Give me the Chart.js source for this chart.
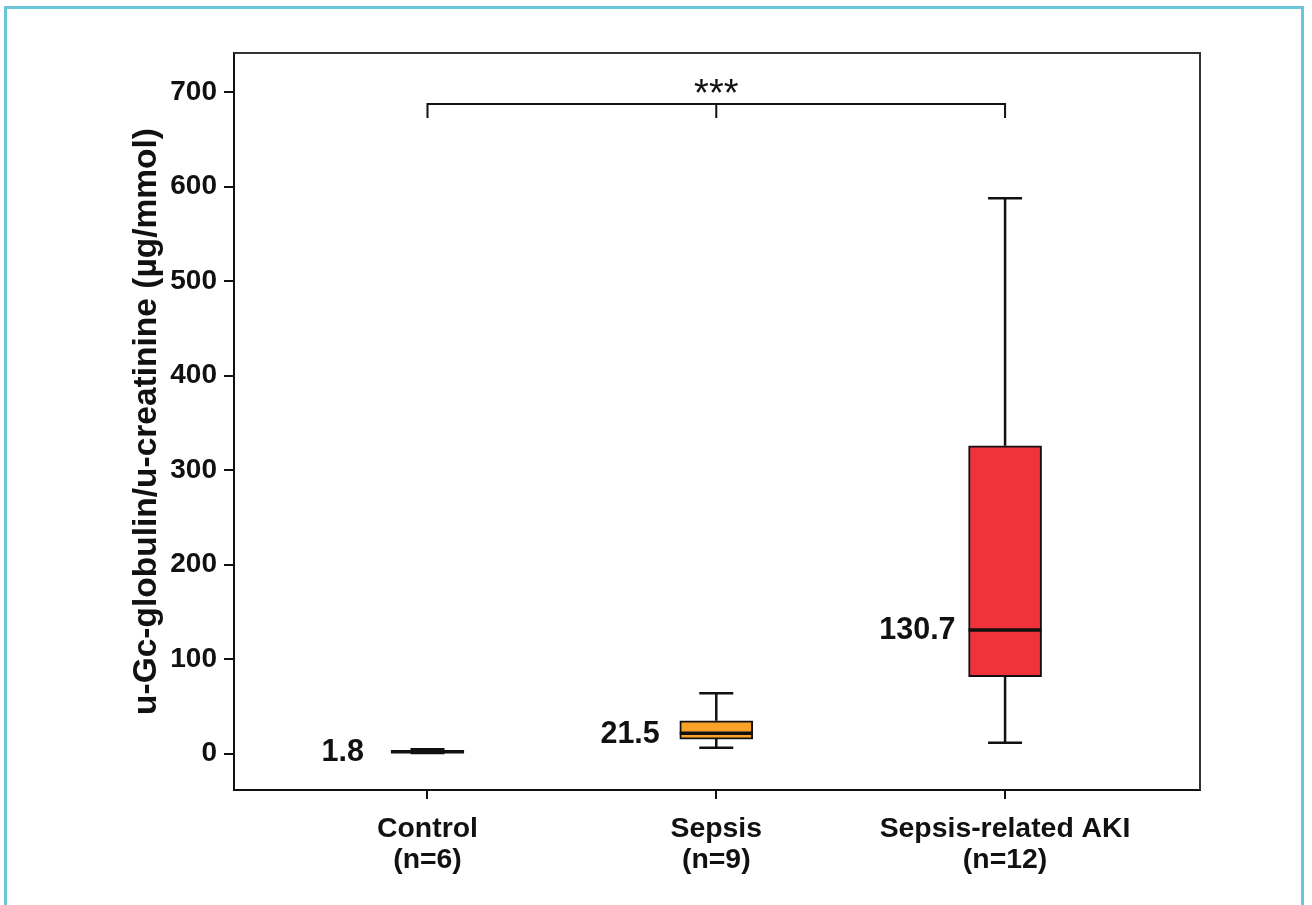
<!DOCTYPE html>
<html>
<head>
<meta charset="utf-8">
<script src="https://cdn.jsdelivr.net/npm/chart.js@4.4.1/dist/chart.umd.min.js"></script>
<style>
  html, body { margin: 0; padding: 0; background: #ffffff; overflow: hidden; }
  #wrap { position: relative; width: 1312px; height: 905px; }
  #frame { position: absolute; left: 4px; top: 6px; width: 1300px; height: 920px;
           border: 3px solid #6cc6da; box-sizing: border-box; pointer-events: none; }
  canvas { position: absolute; left: 0; top: 0; }
</style>
</head>
<body>
<div id="wrap">
  <canvas id="c" width="1312" height="905"></canvas>
  <div id="frame"></div>
</div>
<script>
// ---- data ----
const categories = ['Control', 'Sepsis', 'Sepsis-related AKI'];
const sampleSizes = ['(n=6)', '(n=9)', '(n=12)'];
const minVals    = [0.6, 6.1, 11.4];
const q1Vals     = [0.9, 15.3, 81.3];
const medianVals = [1.8, 21.5, 130.7];
const q3Vals     = [3.2, 34.7, 325.7];
const maxVals    = [4.5, 63.7, 587.5];
const medianLabels = ['1.8', '21.5', '130.7'];
const yTicks = [0, 100, 200, 300, 400, 500, 600, 700];
const yTitle = 'u-Gc-globulin/u-creatinine (\u00b5g/mmol)';
const bracketFrom = 1, bracketMid = 2, bracketTo = 3;
const bracketTop = 687.3, bracketLeg = 672.5, sigLabelY = 696.5;
const sigLabel = '***';

// ---- styles ----
const boxColors = ['#f9a227', '#f9a227', '#f0333b'];
const labelGaps = [27, 20, 13];
const FONT = "'Liberation Sans', Arial, sans-serif";
const INK = '#111111';

const boxData = categories.map((c, i) => ({ x: i + 1, y: [q1Vals[i], q3Vals[i]] }));

const boxPlugin = {
  id: 'boxExtras',
  afterDatasetsDraw(chart) {
    const ctx = chart.ctx;
    const xs = chart.scales.x, ys = chart.scales.y;
    const half = 36.5, capHalf = 17;
    ctx.save();
    ctx.strokeStyle = INK;
    ctx.lineCap = 'butt';
    categories.forEach((c, i) => {
      const x = xs.getPixelForValue(i + 1);
      const yMin = ys.getPixelForValue(minVals[i]);
      const yQ1 = ys.getPixelForValue(q1Vals[i]);
      const yQ3 = ys.getPixelForValue(q3Vals[i]);
      const yMax = ys.getPixelForValue(maxVals[i]);
      const yMed = ys.getPixelForValue(medianVals[i]);
      ctx.lineWidth = 2.5;
      ctx.beginPath();
      ctx.moveTo(x, yQ3); ctx.lineTo(x, yMax);
      ctx.moveTo(x, yQ1); ctx.lineTo(x, yMin);
      ctx.moveTo(x - capHalf, yMax); ctx.lineTo(x + capHalf, yMax);
      ctx.moveTo(x - capHalf, yMin); ctx.lineTo(x + capHalf, yMin);
      ctx.stroke();
      ctx.lineWidth = 3.5;
      ctx.beginPath();
      ctx.moveTo(x - half, yMed); ctx.lineTo(x + half, yMed);
      ctx.stroke();
      ctx.fillStyle = INK;
      ctx.font = 'bold 30.5px ' + FONT;
      ctx.textAlign = 'right';
      ctx.textBaseline = 'middle';
      ctx.fillText(medianLabels[i], x - half - labelGaps[i], yMed + 1);
    });
    // significance label
    ctx.font = '38px ' + FONT;
    ctx.textAlign = 'center';
    ctx.textBaseline = 'middle';
    ctx.fillText(sigLabel, xs.getPixelForValue(bracketMid), ys.getPixelForValue(sigLabelY));
    // plot frame top/right
    const a = chart.chartArea;
    ctx.lineWidth = 2;
    ctx.strokeStyle = '#333';
    ctx.beginPath();
    ctx.moveTo(a.left, a.top); ctx.lineTo(a.right, a.top); ctx.lineTo(a.right, a.bottom);
    ctx.stroke();
    ctx.restore();
  }
};

new Chart(document.getElementById('c'), {
  type: 'bar',
  data: {
    datasets: [
      {
        type: 'bar',
        data: boxData,
        backgroundColor: boxColors,
        borderColor: INK,
        borderWidth: 2,
        borderSkipped: false,
        barThickness: 73,
        grouped: false
      },
      {
        type: 'line',
        data: [{ x: bracketFrom, y: bracketLeg }, { x: bracketFrom, y: bracketTop },
               { x: bracketTo, y: bracketTop }, { x: bracketTo, y: bracketLeg }],
        borderColor: INK, borderWidth: 2, pointRadius: 0, tension: 0, fill: false
      },
      {
        type: 'line',
        data: [{ x: bracketMid, y: bracketTop }, { x: bracketMid, y: bracketLeg }],
        borderColor: INK, borderWidth: 2, pointRadius: 0, tension: 0, fill: false
      }
    ]
  },
  options: {
    responsive: false,
    animation: false,
    layout: { padding: { left: 127, top: 53, right: 112, bottom: 0 } },
    plugins: { legend: { display: false }, tooltip: { enabled: false } },
    scales: {
      x: {
        type: 'linear',
        offset: false,
        min: 0.33, max: 3.675,
        afterBuildTicks: s => { s.ticks = categories.map((c, i) => ({ value: i + 1 })); },
        afterFit: s => { s.height = 115; },
        ticks: {
          callback: (v, idx) => [categories[idx], sampleSizes[idx]],
          font: { family: FONT, size: 28.4, weight: 'bold', lineHeight: 1.08 },
          color: INK, padding: 15, maxRotation: 0, autoSkip: false
        },
        grid: { offset: false, drawOnChartArea: false, drawTicks: true, tickLength: 9, color: INK, lineWidth: 2 },
        border: { color: INK, width: 2 }
      },
      y: {
        type: 'linear',
        min: -38.6, max: 741.3,
        afterBuildTicks: s => { s.ticks = yTicks.map(v => ({ value: v })); },
        afterFit: s => { s.width = 107; },
        ticks: {
          font: { family: FONT, size: 28, weight: 'bold' },
          color: INK, padding: 7
        },
        grid: { drawOnChartArea: false, drawTicks: true, tickLength: 10, color: INK, lineWidth: 2 },
        border: { color: INK, width: 2 },
        title: {
          display: true, text: yTitle, color: INK,
          font: { family: FONT, size: 33.5, weight: 'bold' },
          padding: { top: 0, bottom: 0 }
        }
      }
    }
  },
  plugins: [boxPlugin]
});
</script>
</body>
</html>
